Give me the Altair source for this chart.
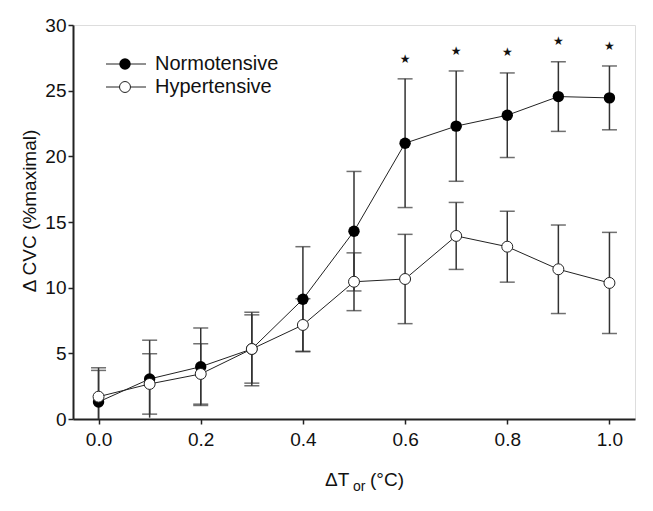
import altair as alt
import pandas as pd

x_vals = [0.0, 0.1, 0.2, 0.3, 0.4, 0.5, 0.6, 0.7, 0.8, 0.9, 1.0]
normo_mean = [1.3, 3.05, 3.98, 5.33, 9.12, 14.3, 21.0, 22.3, 23.13, 24.55, 24.45]
normo_se = [2.4, 2.95, 2.95, 2.8, 4.0, 4.55, 4.9, 4.2, 3.22, 2.65, 2.43]
hyper_mean = [1.7, 2.67, 3.43, 5.33, 7.16, 10.45, 10.66, 13.94, 13.12, 11.4, 10.36]
hyper_se = [2.2, 2.3, 2.3, 2.6, 2.0, 2.2, 3.4, 2.55, 2.7, 3.37, 3.85]
star_x = [0.6, 0.7, 0.8, 0.9, 1.0]
star_y = [27.39, 28.03, 27.98, 28.79, 28.43]
series_names = ["Normotensive", "Hypertensive"]

rows = []
for i, xv in enumerate(x_vals):
    rows.append({"x": xv, "group": series_names[0], "mean": normo_mean[i],
                 "lo": normo_mean[i] - normo_se[i], "hi": normo_mean[i] + normo_se[i]})
    rows.append({"x": xv, "group": series_names[1], "mean": hyper_mean[i],
                 "lo": hyper_mean[i] - hyper_se[i], "hi": hyper_mean[i] + hyper_se[i]})
df = pd.DataFrame(rows)
stars = pd.DataFrame({"x": star_x, "y": star_y, "t": ["★"] * len(star_x)})

FONT = "Liberation Sans"
xs = alt.Scale(domain=[-0.05, 1.05], nice=False, zero=False)
ys = alt.Scale(domain=[0, 30], nice=False)

xenc = alt.X("x:Q", scale=xs, axis=alt.Axis(values=[0, 0.2, 0.4, 0.6, 0.8, 1.0], format=".1f",
             title=None, grid=False, domainWidth=2, domainColor="#222", tickColor="#222",
             tickWidth=1.5, tickSize=5, labelFontSize=19, labelFont=FONT, labelColor="#111",
             labelPadding=6))
yenc_axis = alt.Axis(values=[0, 5, 10, 15, 20, 25, 30], title=None, grid=False, domainWidth=2,
                     domainColor="#222", tickColor="#222", tickWidth=1.5, tickSize=5,
                     labelFontSize=19, labelFont=FONT, labelColor="#111", labelPadding=2)

base = alt.Chart(df)

err_rule = base.mark_rule(color="#333", strokeWidth=1.5, clip=True).encode(
    x=xenc, y=alt.Y("lo:Q", scale=ys, axis=yenc_axis), y2="hi:Q", detail="group:N")
cap_lo = base.transform_filter(alt.datum.lo > 0.3).mark_tick(
    color="#333", thickness=1.5, size=15, orient="horizontal", clip=True).encode(
    x=alt.X("x:Q", scale=xs), y=alt.Y("lo:Q", scale=ys))
cap_hi = base.mark_tick(color="#333", thickness=1.5, size=15, orient="horizontal", clip=True).encode(
    x=alt.X("x:Q", scale=xs), y=alt.Y("hi:Q", scale=ys))

lines = base.mark_line(color="#222", strokeWidth=1).encode(
    x=alt.X("x:Q", scale=xs), y=alt.Y("mean:Q", scale=ys), detail="group:N")

normo_pts = base.transform_filter(alt.datum.group == series_names[0]).mark_point(
    shape="circle", filled=True, size=130, color="#000", opacity=1).encode(
    x=alt.X("x:Q", scale=xs), y=alt.Y("mean:Q", scale=ys))
hyper_pts = base.transform_filter(alt.datum.group == series_names[1]).mark_point(
    shape="circle", filled=True, size=120, fill="#fff", stroke="#222", strokeWidth=1,
    opacity=1).encode(
    x=alt.X("x:Q", scale=xs), y=alt.Y("mean:Q", scale=ys))

star_layer = alt.Chart(stars).mark_text(font="DejaVu Sans", fontSize=12, color="#111",
                                       baseline="middle").encode(
    x=alt.X("x:Q", scale=xs), y=alt.Y("y:Q", scale=ys), text="t:N")

# legend (manual)
leg = pd.DataFrame({"name": series_names})
leg_layers = []
for i, nm in enumerate(series_names):
    yy = 39 + i * 23
    d = alt.Chart(leg).transform_filter(alt.datum.name == nm)
    leg_layers.append(d.mark_rule(color="#222", strokeWidth=1).encode(
        x=alt.value(33), x2=alt.value(73), y=alt.value(yy)))
    if i == 0:
        leg_layers.append(d.mark_point(shape="circle", filled=True, size=130, color="#000",
                                       opacity=1).encode(x=alt.value(52), y=alt.value(yy)))
    else:
        leg_layers.append(d.mark_point(shape="circle", filled=True, size=120, fill="#fff",
                                       stroke="#222", strokeWidth=1, opacity=1).encode(
            x=alt.value(52), y=alt.value(yy)))
    leg_layers.append(d.mark_text(font=FONT, fontSize=20, color="#111", align="left",
                                  baseline="middle").encode(
        x=alt.value(82), y=alt.value(yy), text="name:N"))

# axis titles (manual, for subscript)
tdf = pd.DataFrame({"a": [1]})
t = alt.Chart(tdf)
ytitle = t.mark_text(font=FONT, fontSize=19, color="#111", angle=270, align="center",
                     baseline="middle").encode(
    x=alt.value(-43), y=alt.value(186), text=alt.value("Δ CVC (%maximal)"))
xt1 = t.mark_text(font=FONT, fontSize=19, color="#111", align="left", baseline="middle").encode(
    x=alt.value(252), y=alt.value(455), text=alt.value("ΔT"))
xt2 = t.mark_text(font=FONT, fontSize=14, color="#111", align="left", baseline="middle").encode(
    x=alt.value(280), y=alt.value(462), text=alt.value("or"))
xt3 = t.mark_text(font=FONT, fontSize=19, color="#111", align="left", baseline="middle").encode(
    x=alt.value(297), y=alt.value(455), text=alt.value("(°C)"))

chart = alt.layer(err_rule, cap_lo, cap_hi, lines, normo_pts, hyper_pts, star_layer,
                  *leg_layers, ytitle, xt1, xt2, xt3).properties(
    width=562, height=394,
    autosize=alt.AutoSizeParams(type="none"),
    padding={"left": 65, "top": 17, "right": 10, "bottom": 84},
).configure_view(stroke=None).configure(background="white")

chart.save("out.html", embed_options={"renderer": "svg", "actions": False})
